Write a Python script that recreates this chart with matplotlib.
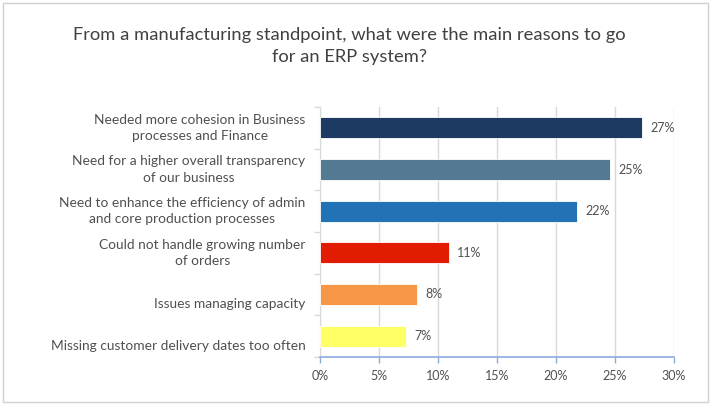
import matplotlib.pyplot as plt
from matplotlib.patches import Rectangle
from matplotlib.ticker import FuncFormatter, FixedLocator

# data (top to bottom)
reasons = [
    'Needed more cohesion in Business\nprocesses and Finance',
    'Need for a higher overall transparency\nof our business',
    'Need to enhance the efficiency of admin\nand core production processes',
    'Could not handle growing number\nof orders',
    'Issues managing capacity',
    'Missing customer delivery dates too often',
]
shares = [27.3, 24.6, 21.8, 10.9, 8.2, 7.3]
share_labels = ['27%', '25%', '22%', '11%', '8%', '7%']
bar_colors = ['#1D3A62', '#537A92', '#2272B6', '#E21C00', '#F79646', '#FFFF66']
x_ticks = [0, 5, 10, 15, 20, 25, 30]

plt.rcParams['font.family'] = ['Lato', 'DejaVu Sans']
txt = '#505050'

W, H = 711, 408
fig = plt.figure(figsize=(W / 100, H / 100), dpi=100)
fig.patch.set_facecolor('white')

# outer frame
fig.patches.append(Rectangle((3 / W, 6 / H), 705 / W, 399 / H, transform=fig.transFigure,
                             fill=False, edgecolor='#D0D0D0', linewidth=1.0))

fig.text(349 / W, 1 - 46 / H,
         'From a manufacturing standpoint, what were the main reasons to go\nfor an ERP system?',
         ha='center', va='center', fontsize=13.2, color='#404040', linespacing=1.4)

ax = fig.add_axes([320 / W, 1 - 357 / H, 354 / W, 250 / H])
ypos = list(range(len(reasons)))
ax.barh(ypos, shares, height=0.5, color=bar_colors, edgecolor='white', linewidth=0.6, zorder=3)
ax.set_ylim(len(reasons) - 0.5, -0.5)
ax.set_xlim(0, 30)

# x axis
ax.xaxis.set_major_locator(FixedLocator(x_ticks))
ax.xaxis.set_major_formatter(FuncFormatter(lambda v, p: f'{v:.0f}%'))
ax.tick_params(axis='x', direction='out', length=4, width=1, color='#8EAADB',
               labelsize=9, labelcolor=txt, pad=5)
ax.grid(axis='x', color='#D9D9D9', linewidth=1, zorder=0)

# y axis: tick marks at category boundaries, labels drawn as text
ax.set_yticks([])
ax.set_yticks([i + 0.5 for i in range(-1, len(reasons))], minor=True)
ax.tick_params(axis='y', which='minor', direction='out', length=4, width=1, color='#D9D9D9')
ax.set_yticklabels([], minor=True)

for s in ['top', 'right']:
    ax.spines[s].set_visible(False)
ax.spines['left'].set_color('#D9D9D9')
ax.spines['bottom'].set_color('#8EAADB')
ax.spines['bottom'].set_linewidth(1.2)

for i, (lab, v, vl) in enumerate(zip(reasons, shares, share_labels)):
    dy = 0 if '\n' in lab else -10
    ax.annotate(lab, xy=(0, i), xycoords=('axes fraction', 'data'),
                xytext=(-10.5, dy * 0.72), textcoords='offset points',
                ha='right', va='center', multialignment='center',
                fontsize=9.9, color=txt, linespacing=1.45)
    ax.annotate(vl, xy=(v, i), xytext=(6, 0), textcoords='offset points',
                ha='left', va='center', fontsize=9, color=txt)

fig.savefig('out.png', dpi=100, facecolor='white')
